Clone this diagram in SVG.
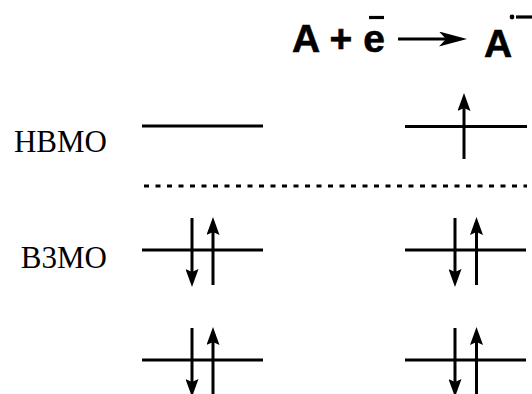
<svg xmlns="http://www.w3.org/2000/svg" width="532" height="394" viewBox="0 0 532 394">
  <style>
    .lvl { stroke: #000; stroke-width: 3; fill: none; }
    .spin { stroke: #000; stroke-width: 3; fill: none; marker-end: url(#ah); }
    .lbl { font-family: "Liberation Serif", "Times New Roman", serif; font-size: 31px; fill: #000; text-anchor: end; }
    .eq { font-family: "Liberation Sans", Arial, sans-serif; font-weight: bold; font-size: 39px; fill: #000; stroke: #000; stroke-width: 0.6; }
  </style>
  <defs>
    <marker id="ah" markerUnits="userSpaceOnUse" markerWidth="18" markerHeight="13" viewBox="0 0 18 13" refX="8" refY="6.5" orient="auto">
      <path d="M0,0 L18,6.5 L0,13 L3,6.5 z" fill="#000"/>
    </marker>
    <marker id="big" markerUnits="userSpaceOnUse" markerWidth="28" markerHeight="15" viewBox="0 0 28 15" refX="18" refY="7.5" orient="auto">
      <path d="M0,0 L28,7.5 L0,15 L7,7.5 z" fill="#000"/>
    </marker>
  </defs>

  <g id="equation">
    <text class="eq" x="292" y="52">A + e</text>
    <line x1="369" y1="17.5" x2="384" y2="17.5" stroke="#000" stroke-width="3.2"/>
    <line x1="398" y1="39" x2="457" y2="39" stroke="#000" stroke-width="3.2" marker-end="url(#big)"/>
    <text class="eq" x="484" y="57">A</text>
    <circle cx="512" cy="17" r="2.4" fill="#000"/>
    <line x1="516" y1="17" x2="532" y2="17" stroke="#000" stroke-width="3.2"/>
  </g>

  <g id="label-lumo"><text class="lbl" x="107" y="152">HBMO</text></g>
  <g id="label-homo"><text class="lbl" x="107" y="268">B3MO</text></g>

  <g id="lumo-left"><line class="lvl" x1="142" y1="126" x2="263" y2="126"/></g>
  <g id="lumo-right">
    <line class="lvl" x1="405" y1="126.5" x2="527" y2="126.5"/>
    <line class="spin" x1="464" y1="159" x2="464" y2="103"/>
  </g>

  <g id="separator"><line x1="144" y1="186" x2="527" y2="186" stroke="#000" stroke-width="3" stroke-dasharray="5 6.5"/></g>

  <g id="homo-left">
    <line class="lvl" x1="142" y1="250" x2="263" y2="250"/>
    <line class="spin" x1="192" y1="218" x2="192" y2="277"/>
    <line class="spin" x1="213" y1="285" x2="213" y2="227"/>
  </g>
  <g id="homo-right">
    <line class="lvl" x1="405" y1="250" x2="526" y2="250"/>
    <line class="spin" x1="455" y1="218" x2="455" y2="277"/>
    <line class="spin" x1="476.5" y1="285" x2="476.5" y2="227"/>
  </g>

  <g id="lower-left">
    <line class="lvl" x1="142" y1="360" x2="263" y2="360"/>
    <line class="spin" x1="192" y1="328" x2="192" y2="387"/>
    <line class="spin" x1="213" y1="396" x2="213" y2="337"/>
  </g>
  <g id="lower-right">
    <line class="lvl" x1="405" y1="360" x2="526" y2="360"/>
    <line class="spin" x1="455" y1="328" x2="455" y2="387"/>
    <line class="spin" x1="476.5" y1="396" x2="476.5" y2="337"/>
  </g>
</svg>
